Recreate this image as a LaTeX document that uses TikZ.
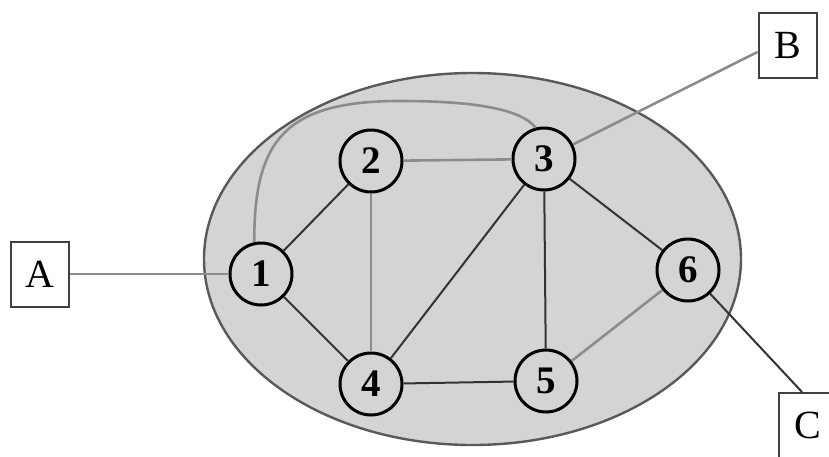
\documentclass[tikz,border=0pt]{standalone}
\usepackage{fontspec}
\setmainfont{Liberation Serif}
\begin{document}
\begin{tikzpicture}[x=1pt,y=-1pt,
  vertex/.style={circle,draw=black,line width=3pt,minimum size=62pt,inner sep=0pt,
    font=\fontsize{39}{39}\selectfont\bfseries},
  label box/.style={rectangle,draw=black!75,line width=2pt,fill=white,minimum width=58pt,
    minimum height=65pt,inner sep=0pt,font=\fontsize{40}{40}\selectfont},
  dark edge/.style={draw=black!80,line width=2pt},
  grey edge/.style={draw=black!45,line width=2.6pt}]
\useasboundingbox (0,0) rectangle (829,456);
\clip (0,0) rectangle (829,456);
% region
\path[fill=black!17,draw=black!65,line width=2.4pt] (472.5,259) ellipse [x radius=268.5pt,y radius=186pt];
% vertices
\node[vertex] (n1) at (261,274) {1};
\node[vertex] (n2) at (371,161) {2};
\node[vertex] (n3) at (544,159) {3};
\node[vertex] (n4) at (371,384) {4};
\node[vertex] (n5) at (546,381) {5};
\node[vertex] (n6) at (688,270) {6};
% label boxes
\node[label box] (A) at (40,274) {A};
\node[label box] (B) at (787.5,45) {B};
\node[label box] (C) at (807.5,425) {C};
\coordinate (cTop) at (802,392);
% edges
\draw[dark edge] (n1) -- (n2);
\draw[dark edge] (n1) -- (n4);
\draw[grey edge] (n2) -- (n3);
\draw[grey edge] (n2) -- (n4);
\draw[dark edge] (n3) -- (n4);
\draw[dark edge] (n3) -- (n5);
\draw[dark edge] (n3) -- (n6);
\draw[dark edge] (n4) -- (n5);
\draw[grey edge] (n5) -- (n6);
\draw[grey edge] (n1.102) .. controls (254,140) and (285,101) .. (400,101)
  .. controls (470,101) and (520,108) .. (n3.105);
% external links
\draw[grey edge] (A.east) -- (n1);
\draw[grey edge] (B.west) ++(0,7) -- (n3);
\draw[dark edge] (n6) -- (cTop);
\end{tikzpicture}
\end{document}
